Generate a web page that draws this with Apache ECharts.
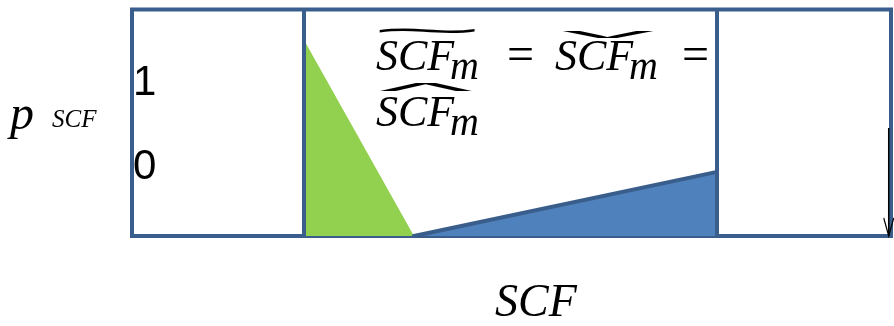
<!DOCTYPE html>
<html><head><meta charset="utf-8">
<script src="https://cdn.jsdelivr.net/npm/echarts@6/dist/echarts.min.js"></script>
<style>html,body{margin:0;padding:0;background:#fff}#c{width:894px;height:326px}</style>
</head><body><div id="c"></div><script>
// Region boundaries (x, in % of SCF range)
const regionBounds = [22.66, 77.08];
// Green triangle (left region probability)
const greenX = [22.66, 37.15];
const greenY = [0.865, 0];
// Blue triangle (right region probability)
const blueX = [37.15, 77.08];
const blueY = [0, 0.283];
// Arrow at far right
const arrowX = [99.7, 99.7];
const arrowY = [0.477, 0.0];
// Tick labels on the probability axis
const tickValues = [0, 1];
const tickLabels = ['0', '1'];

const EDGE = '#3A5E8C';
const zip = (xs, ys) => xs.map((x, i) => [x, ys[i]]);

const chart = echarts.init(document.getElementById('c'), null, {renderer: 'canvas'});
const serif = 'Liberation Serif';
const tok = (size, w, padTop, italic) => ({fontFamily: serif, fontStyle: italic ? 'italic' : 'normal', fontSize: size,
  lineHeight: 56, verticalAlign: 'top', fill: '#000', width: w, padding: [padTop, 0, 0, 0]});
const accent = (ch, x, y, sx, sy, font) => ({type: 'text', x: x, y: y, scaleX: sx, scaleY: sy, z: 11,
  style: {text: ch, fontFamily: font, fontSize: 40, fill: '#000', align: 'center', verticalAlign: 'middle'}});
chart.setOption({
  animation: false,
  grid: {left: 132, top: 9.5, width: 759, height: 226.5, show: true,
         borderColor: EDGE, borderWidth: 4, backgroundColor: 'transparent'},
  xAxis: {type: 'value', min: 0, max: 100, show: false},
  yAxis: [
    {type: 'value', min: 0, max: 1, show: false},
    {type: 'value', min: -0.815, max: 1.881, position: 'left',
     axisLine: {show: false}, axisTick: {show: false}, splitLine: {show: false},
     axisLabel: {inside: true, margin: 1, customValues: tickValues,
       formatter: v => tickLabels[tickValues.indexOf(v)],
       fontSize: 42, color: '#000', fontFamily: 'Liberation Sans'}}
  ],
  series: [
    {type: 'line', data: [], z: 1, silent: true,
     markLine: {silent: true, symbol: ['none', 'none'], label: {show: false},
       lineStyle: {color: EDGE, width: 4, type: 'solid'},
       data: regionBounds.map(v => ({xAxis: v}))}},
    {type: 'line', data: zip(greenX, greenY), z: 3, symbol: 'none',
     lineStyle: {width: 0}, areaStyle: {color: '#92D050', opacity: 1}},
    {type: 'line', data: zip(blueX, blueY), z: 3, symbol: 'none',
     lineStyle: {color: EDGE, width: 4, cap: 'round'}, areaStyle: {color: '#4F81BD', opacity: 1}},
    {type: 'line', z: 4, showSymbol: true,
     lineStyle: {color: '#000', width: 1.5},
     data: zip(arrowX, arrowY).map((p, i) => i === 0 ? {value: p, symbol: 'none'} :
       {value: p, symbol: 'path://M0,0 L5,10 L10,0', symbolSize: [10, 18], symbolKeepAspect: false,
        symbolOffset: [0, '-50%'],
        itemStyle: {color: 'transparent', borderColor: '#000', borderWidth: 1.5}})}
  ],
  graphic: [
    {type: 'text', x: 376, y: 33, z: 10, style: {
      text: '{a|SCF}{s|m}{e|=}{b|SCF}{t|m}{f|=}\n{a|SCF}{s|m}',
      rich: {
        a: tok(44, 74, 3, true), s: tok(40, 57, 15, true), e: tok(48, 48, 0, false),
        b: tok(44, 74, 3, true), t: tok(40, 53, 15, true), f: tok(48, 40, 0, false)
      }}},
    accent('~', 427, 33, 4.8, 0.9, 'Liberation Sans'),
    accent('v', 608, 34, 4.6, 0.32, 'Liberation Sans'),
    accent('^', 426, 92, 5.0, 0.55, 'Liberation Sans'),
    {type: 'text', x: 10, y: 85, style: {
      text: '{p|p}{s|SCF}',
      rich: {
        p: {fontFamily: serif, fontStyle: 'italic', fontSize: 48, lineHeight: 50, verticalAlign: 'top', fill: '#000', width: 42, padding: [7, 0, 0, 0]},
        s: {fontFamily: serif, fontStyle: 'italic', fontSize: 25, lineHeight: 50, verticalAlign: 'top', fill: '#000', padding: [23, 0, 0, 0]}
      }}},
    {type: 'text', left: 495, top: 281, style: {
      text: 'SCF', font: 'italic 46px "Liberation Serif"', fill: '#000'}}
  ]
});
</script></body></html>
